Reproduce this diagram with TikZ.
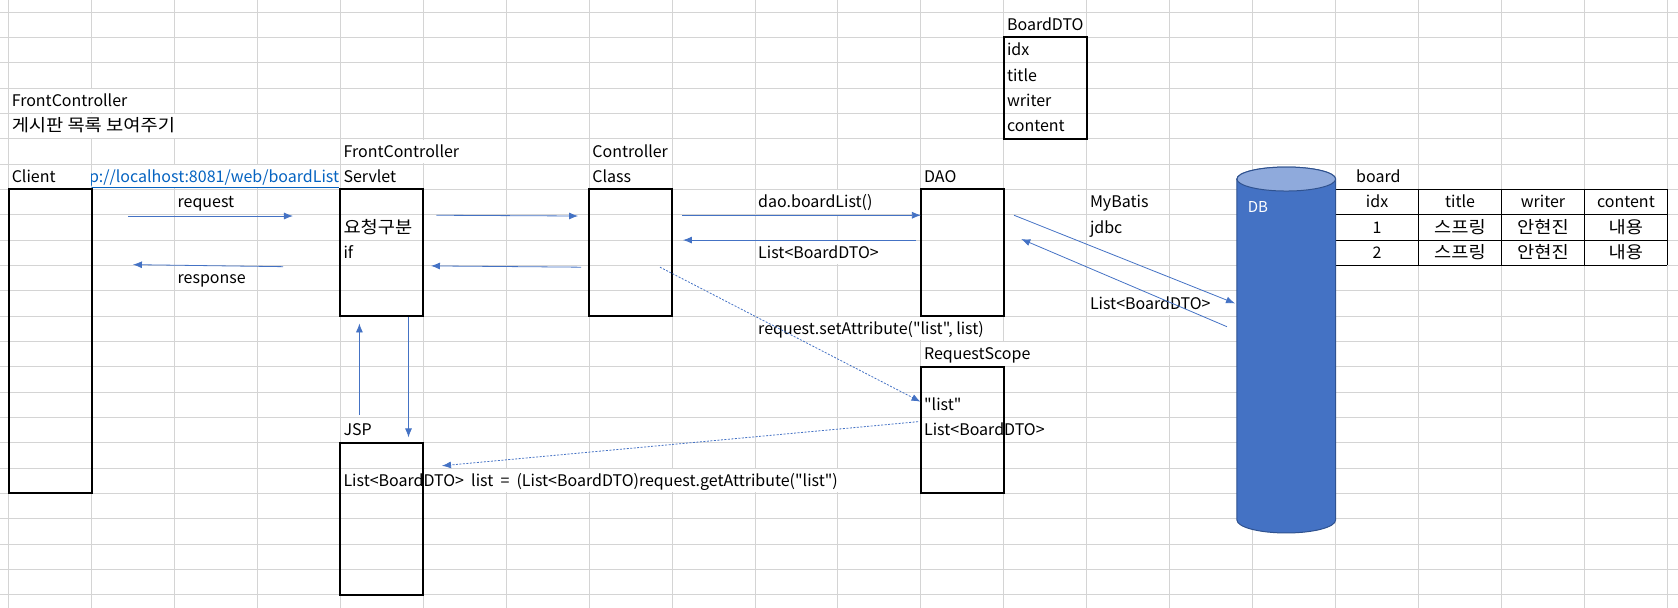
\documentclass[tikz,border=0pt]{standalone}
\usepackage{fontspec}
\setmainfont{Noto Sans CJK KR}[Ligatures=TeXOff]
\newfontfamily\krfont{Noto Sans CJK KR}[FakeStretch=1.1]
\usetikzlibrary{arrows.meta}

\definecolor{gridgray}{HTML}{D4D4D4}
\definecolor{arrowblue}{HTML}{4472C4}
\definecolor{dbblue}{HTML}{4472C4}
\definecolor{dbedge}{HTML}{2F528F}
\definecolor{dbtop}{HTML}{8FAADC}
\definecolor{linkblue}{HTML}{0563C1}
\newcommand{\cellfont}{\fontsize{16}{19}\selectfont}
\newcommand{\kr}{\krfont\fontsize{17}{20}\selectfont}

\tikzset{
  cell/.style={anchor=base west, inner xsep=3pt, inner ysep=0pt, font=\cellfont},
  tcell/.style={anchor=base, inner sep=0pt, font=\cellfont},
  lifebox/.style={draw=black, line width=2pt},
  flow/.style={arrowblue, line width=0.8pt, -{Latex[length=9pt,width=7pt]}},
  dflow/.style={flow, dash pattern=on 2pt off 1.5pt},
}

\begin{document}
\begin{tikzpicture}[x=82.94pt, y=-25.33pt]
\useasboundingbox (-0.1032,-0.4777) rectangle (20.128,23.525);

% sheet
\begin{scope}[gridgray, line width=1pt]
\foreach \k in {0,...,20} \draw (\k,-0.4777) -- (\k,23.525);
\foreach \r in {0,...,23} \draw (-0.1032,\r) -- (20.128,\r);
\end{scope}
\foreach \a/\b/\r in {0/2/3, 0/3/4, 4/6/5, 1/4/6, 9/11/7, 9/11/9, 13/15/11, 9/12/12, 11/13/13, 11/13/16, 4/11/18}
  \fill[white] (\a+0.012,\r+0.04) rectangle (\b-0.012,\r+0.96);

% boxes
\draw[lifebox] (0,7) rectangle (1,19);
\draw[lifebox] (4,7) rectangle (5,12);
\draw[lifebox] (7,7) rectangle (8,12);
\draw[lifebox] (11,7) rectangle (12,12);
\draw[lifebox] (11,14) rectangle (12,19);
\draw[lifebox] (4,17) rectangle (5,23);
\draw[lifebox] (12,1) rectangle (13,5);

% board table
\begin{scope}[line width=1pt]
\foreach \k in {16,...,20} \draw (\k,7) -- (\k,10);
\foreach \r in {7,...,10} \draw (16,\r) -- (20,\r);
\end{scope}

% DB
\draw[dbedge, fill=dbblue, line width=1pt] (14.81,6.59) -- (14.81,20.05)
  arc[start angle=180, end angle=360, x radius=49.35pt, y radius=13pt] -- (16,6.59)
  arc[start angle=0, end angle=180, x radius=49.35pt, y radius=12pt] -- cycle;
\draw[dbedge, fill=dbtop, line width=1pt] (15.405,6.59) ellipse [x radius=49.35pt, y radius=12pt];
\node[anchor=base west, inner sep=0pt, white, font=\fontsize{15}{18}\selectfont] (db) at (14.94,7.93) {DB};

% texts
\node[cell] (fc-title) at (0,3.73) {FrontController};
\node[cell] (fc-sub) at (0,4.73) {\kr 게시판 목록 보여주기};
\node[cell] (client) at (0,6.73) {Client};
\begin{scope}
\clip (1,6) rectangle (4,7);
\node[cell, anchor=base east, inner xsep=1pt, linkblue] (url) at (4,6.73) {\underline{p://localhost:8081/web/boardList}};
\end{scope}
\node[cell] (fcs-1) at (4,5.73) {FrontController};
\node[cell] (fcs-2) at (4,6.73) {Servlet};
\node[cell] (ctl-1) at (7,5.73) {Controller};
\node[cell] (ctl-2) at (7,6.73) {Class};
\node[cell] (dao) at (11,6.73) {DAO};
\node[cell] (dto) at (12,0.73) {BoardDTO};
\foreach \f [count=\i] in {idx,title,writer,content}
  \node[cell] (dto-\i) at (12,\i+.73) {\f};
\node[cell, inner xsep=0pt] (board) at (16.246,6.73) {board};
\foreach \t [count=\i from 16] in {idx,title,writer,content}
  \node[tcell] (head-\i) at (\i+.5,7.73) {\t};
\foreach \row in {1,2}
  \foreach \t [count=\i from 16] in {\row,\kr 스프링,\kr 안현진,\kr 내용}
    \node[tcell] (row\row-\i) at (\i+.5,\row+7.73) {\t};
\node[cell] (mybatis) at (13,7.73) {MyBatis};
\node[cell] (jdbc) at (13,8.73) {jdbc};
\node[cell] (db-ret) at (13,11.73) {List<BoardDTO>};
\node[cell] (req) at (2,7.73) {request};
\node[cell] (resp) at (2,10.73) {response};
\node[cell] (sel-1) at (4,8.73) {\kr 요청구분};
\node[cell] (sel-2) at (4,9.73) {if};
\node[cell] (call) at (9,7.73) {dao.boardList()};
\node[cell] (ret) at (9,9.73) {List<BoardDTO>};
\node[cell] (setattr) at (9,12.73) {request.setAttribute("list", list)};
\node[cell] (scope) at (11,13.73) {RequestScope};
\node[cell] (key) at (11,15.73) {"list"};
\node[cell] (val) at (11,16.73) {List<BoardDTO>};
\node[cell] (jsp) at (4,16.73) {JSP};
\node[cell] (getattr) at (4,18.73) {List<BoardDTO>\ \ list\ \ =\ \ (List<BoardDTO)request.getAttribute("list")};

% connectors
\coordinate (req-a) at (1.445,8.05);   \coordinate (req-b) at (3.429,8.05);
\coordinate (resp-a) at (3.309,10.05); \coordinate (resp-b) at (1.500,9.97);
\coordinate (fwd-a) at (5.158,8.02);   \coordinate (fwd-b) at (6.866,8.05);
\coordinate (back-a) at (6.902,10.07); \coordinate (back-b) at (5.093,10.02);
\coordinate (call-a) at (8.120,8.02);  \coordinate (call-b) at (11.0,8.02);
\coordinate (ret-a) at (10.94,9.00);   \coordinate (ret-b) at (8.131,9.00);
\coordinate (jdbc-a) at (12.123,8.02); \coordinate (jdbc-b) at (14.787,11.50);
\coordinate (rs-a) at (14.69,12.42);   \coordinate (rs-b) at (12.21,8.96);
\coordinate (set-a) at (7.854,10.07);  \coordinate (set-b) at (10.995,15.38);
\coordinate (get-a) at (10.965,16.17); \coordinate (get-b) at (5.226,17.91);
\coordinate (up-a) at (4.230,15.91);   \coordinate (up-b) at (4.230,12.29);
\coordinate (down-a) at (4.822,12.05); \coordinate (down-b) at (4.822,16.79);

\foreach \c in {req,resp,fwd,back,call,ret,jdbc,rs,up,down}
  \draw[flow] (\c-a) -- (\c-b);
\draw[dflow] (set-a) -- (set-b);
\draw[dflow] (get-a) -- (get-b);

\end{tikzpicture}
\end{document}
